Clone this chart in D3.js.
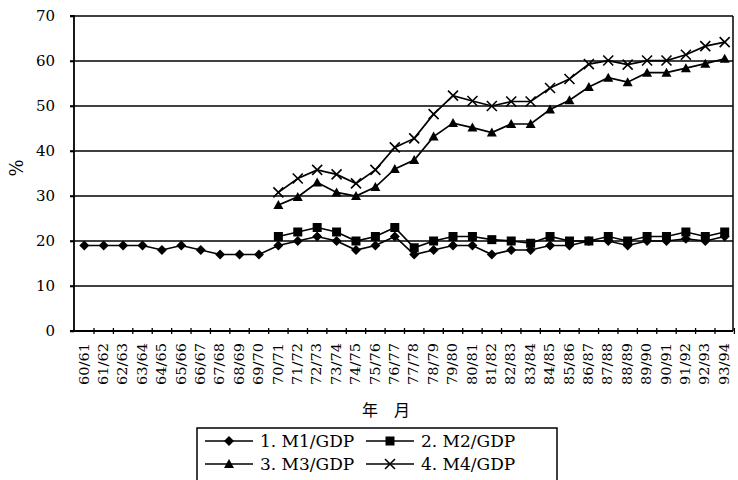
<!DOCTYPE html>
<html>
<head>
<meta charset="utf-8">
<script src="https://cdn.jsdelivr.net/npm/d3@7"></script>
<style>
  html, body { margin: 0; padding: 0; background: #fff; }
  svg { display: block; }
</style>
</head>
<body>
<svg id="chart" width="738" height="480"></svg>
<script>
const categories = ["60/61","61/62","62/63","63/64","64/65","65/66","66/67","67/68","68/69","69/70",
  "70/71","71/72","72/73","73/74","74/75","75/76","76/77","77/78","78/79","79/80",
  "80/81","81/82","82/83","83/84","84/85","85/86","86/87","87/88","88/89","89/90",
  "90/91","91/92","92/93","93/94"];

const m1 = [19,19,19,19,18,19,18,17,17,17,
  19,20,21,20,18,19,21,17,18,19,
  19,17,18,18,19,19,20,20,19,20,
  20,20.5,20,21];
const m2 = [null,null,null,null,null,null,null,null,null,null,
  21,22,23,22,20,21,23,18.5,20,21,
  21,20.3,20,19.5,21,20,20,21,20,21,
  21,22,21,22];
const m3 = [null,null,null,null,null,null,null,null,null,null,
  28,29.8,33,30.8,30,32,36,38,43.2,46.2,
  45.2,44.1,46,46,49.2,51.3,54.2,56.3,55.3,57.4,
  57.4,58.4,59.4,60.5];
const m4 = [null,null,null,null,null,null,null,null,null,null,
  30.8,33.9,35.8,34.8,32.8,35.8,40.8,42.8,48.2,52.3,
  51.1,50,51,51,54,56,59.3,60.1,59.2,60.1,
  60.1,61.4,63.3,64.2];

const yTicks = [0,10,20,30,40,50,60,70];
const seriesNames = ["1. M1/GDP","2. M2/GDP","3. M3/GDP","4. M4/GDP"];
const yTitle = "%";
const xTitle = "年　月";

const svg = d3.select("#chart");
const serif = "'DejaVu Serif', serif";

const x = d3.scaleBand().domain(categories).range([74.6, 734.4]);
const y = d3.scaleLinear().domain([0, 70]).range([331, 16]);
const cx = c => x(c) + x.bandwidth() / 2;
const left = 74, right = 733;

// gridlines
svg.append("g").selectAll("line").data(yTicks.filter(t => t > 0)).join("line")
  .attr("x1", left - 4).attr("x2", right)
  .attr("y1", d => y(d)).attr("y2", d => y(d))
  .attr("stroke", "#000").attr("stroke-width", 1.6);

// y axis
const yAxis = svg.append("g").attr("transform", `translate(${left},0)`)
  .call(d3.axisLeft(y).tickValues(yTicks).tickSize(4).tickPadding(15));
yAxis.select(".domain").attr("stroke-width", 1.8).attr("d", `M-4,${y(70)}H0V${y(0)}`);
yAxis.selectAll(".tick line").attr("stroke-width", 1.6);
yAxis.selectAll("text").attr("font-family", serif).attr("font-size", 15).attr("fill", "#000");

// right border
svg.append("line").attr("x1", right).attr("x2", right).attr("y1", y(70)).attr("y2", y(0))
  .attr("stroke", "#000").attr("stroke-width", 1.5);

// x axis line
svg.append("line").attr("x1", left - 4).attr("x2", right).attr("y1", y(0)).attr("y2", y(0))
  .attr("stroke", "#000").attr("stroke-width", 1.8);
// x ticks at band boundaries
svg.append("g").selectAll("line").data(categories.slice(1).concat([null])).join("line")
  .attr("x1", d => d === null ? x.range()[1] : x(d))
  .attr("x2", d => d === null ? x.range()[1] : x(d))
  .attr("y1", y(0) - 3).attr("y2", y(0) + 3)
  .attr("stroke", "#000").attr("stroke-width", 1.3);

// x labels
const xAxis = svg.append("g").attr("transform", `translate(0,${y(0)})`)
  .call(d3.axisBottom(x).tickSize(0).tickPadding(0));
xAxis.select(".domain").remove();
xAxis.selectAll("text")
  .attr("font-family", serif).attr("font-size", 12).attr("fill", "#000")
  .attr("transform", "rotate(-90)")
  .attr("text-anchor", "end")
  .attr("x", -12).attr("y", 0).attr("dy", "0.35em")
  .attr("textLength", 42).attr("lengthAdjust", "spacingAndGlyphs");

// titles
svg.append("text").attr("transform", "translate(23,168) rotate(-90)")
  .attr("text-anchor", "middle").attr("font-family", serif).attr("font-size", 18)
  .text(yTitle);
svg.append("text").attr("x", 386).attr("y", 416)
  .attr("text-anchor", "middle").attr("font-family", "'Noto Sans CJK JP', sans-serif").attr("font-size", 16)
  .text(xTitle);

// markers
function marker(g, type, px, py) {
  if (type === 0) {
    g.append("path").attr("d", `M${px},${py-5}L${px+5},${py}L${px},${py+5}L${px-5},${py}Z`).attr("fill", "#000");
  } else if (type === 1) {
    g.append("rect").attr("x", px - 4.5).attr("y", py - 4.5).attr("width", 9).attr("height", 9).attr("fill", "#000");
  } else if (type === 2) {
    g.append("path").attr("d", `M${px},${py-5}L${px+5},${py+4}L${px-5},${py+4}Z`).attr("fill", "#000");
  } else {
    g.append("path").attr("d", `M${px-5},${py-5}L${px+5},${py+5}M${px+5},${py-5}L${px-5},${py+5}`)
      .attr("stroke", "#000").attr("stroke-width", 1.6).attr("fill", "none");
  }
}

const allSeries = [m1, m2, m3, m4];
const line = d3.line().defined(d => d.v !== null).x(d => cx(d.c)).y(d => y(d.v));
allSeries.forEach((vals, si) => {
  const data = categories.map((c, i) => ({ c, v: vals[i] }));
  svg.append("path").datum(data).attr("d", line)
    .attr("fill", "none").attr("stroke", "#000").attr("stroke-width", 1.7);
  const g = svg.append("g");
  data.filter(d => d.v !== null).forEach(d => marker(g, si, cx(d.c), y(d.v)));
});

// legend
const lg = svg.append("g");
lg.append("rect").attr("x", 197).attr("y", 428).attr("width", 360).attr("height", 60)
  .attr("fill", "#fff").attr("stroke", "#000").attr("stroke-width", 1.5);
const pos = [[205, 441], [366, 441], [205, 464], [366, 464]];
seriesNames.forEach((name, i) => {
  const [lx, ly] = pos[i];
  lg.append("line").attr("x1", lx).attr("x2", lx + 48).attr("y1", ly).attr("y2", ly)
    .attr("stroke", "#000").attr("stroke-width", 1.6);
  marker(lg, i, lx + 24, ly);
  lg.append("text").attr("x", lx + 55).attr("y", ly).attr("dy", "0.36em")
    .attr("font-family", serif).attr("font-size", 17).attr("fill", "#000").text(name);
});
</script>
</body>
</html>
